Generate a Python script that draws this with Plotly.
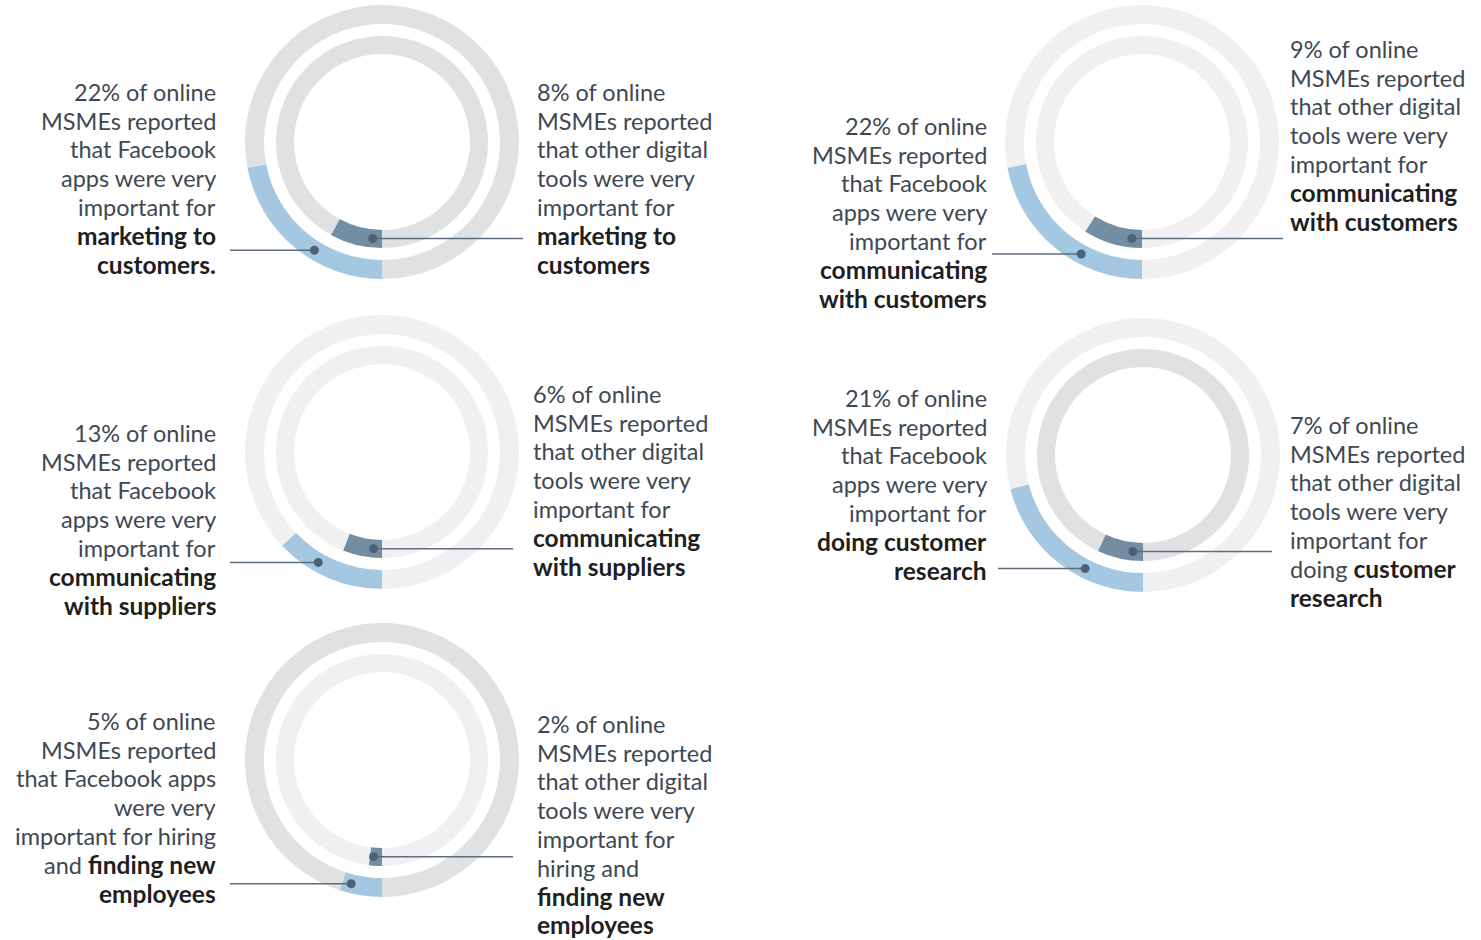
import math
import plotly.graph_objects as go

W, H = 1481, 940

# ---- data ----
topics = ["marketing to customers", "communicating with customers",
          "communicating with suppliers", "doing customer research",
          "hiring and finding new employees"]
facebook_pct = [22, 22, 13, 21, 5]
other_pct = [8, 9, 6, 7, 2]

left_labels = [
    ["22% of online", "MSMEs reported", "that Facebook", "apps were very", "important for", "{b}marketing to{e}", "{b}customers.{e}"],
    ["22% of online", "MSMEs reported", "that Facebook", "apps were very", "important for", "{b}communicating{e}", "{b}with customers{e}"],
    ["13% of online", "MSMEs reported", "that Facebook", "apps were very", "important for", "{b}communicating{e}", "{b}with suppliers{e}"],
    ["21% of online", "MSMEs reported", "that Facebook", "apps were very", "important for", "{b}doing customer{e}", "{b}research{e}"],
    ["5% of online", "MSMEs reported", "that Facebook apps", "were very", "important for hiring", "and {b}finding new{e}", "{b}employees{e}"],
]
right_labels = [
    ["8% of online", "MSMEs reported", "that other digital", "tools were very", "important for", "{b}marketing to{e}", "{b}customers{e}"],
    ["9% of online", "MSMEs reported", "that other digital", "tools were very", "important for", "{b}communicating{e}", "{b}with customers{e}"],
    ["6% of online", "MSMEs reported", "that other digital", "tools were very", "important for", "{b}communicating{e}", "{b}with suppliers{e}"],
    ["7% of online", "MSMEs reported", "that other digital", "tools were very", "important for", "doing {b}customer{e}", "{b}research{e}"],
    ["2% of online", "MSMEs reported", "that other digital", "tools were very", "important for", "hiring and", "{b}finding new{e}", "{b}employees{e}"],
]

# ---- layout / style config ----
centers = [(382, 142), (1142, 142), (382, 452), (1143, 455), (382, 760)]
R_OUT, R_OUT_IN = 137, 118
R_IN, R_IN_IN = 106, 88
BLUE = "#a4c7e2"
SLATE = "#738ea3"
G_DARK = "#e0e1e3"
G_LIGHT = "#f0f0f0"
outer_bg = [G_DARK, G_LIGHT, G_LIGHT, G_LIGHT, G_DARK]
inner_bg = [G_DARK, G_LIGHT, G_LIGHT, G_DARK, G_LIGHT]
dot_ang_out = [32, 28.5, 30, 27, 14]
dot_ang_in = [5.5, 6, 5, 6, 5]
left_line_end = [230, 992, 230, 998, 230]
right_line_end = [523, 1283, 513, 1272, 513]
left_text_x = [218, 989, 218, 989, 218]
right_text_x = [535, 1288, 531, 1288, 535]
left_first_y = [92, 126, 433, 398, 721]
right_first_y = [92, 49, 394, 425, 724]
PITCH = 28.7
TXT = "#3e4853"
BOLD = "#1f1f1f"
LINE = "#5c6d7e"
DOT = "#4e6176"
FONT = "Lato"
FS = 23.5
FS_BOLD = 24.5

def dom(cx, cy, r):
    return dict(x=[(cx - r) / W, (cx + r) / W], y=[1 - (cy + r) / H, 1 - (cy - r) / H])

fig = go.Figure()
for i in range(len(topics)):
    cx, cy = centers[i]
    for val, r, rin, col, bg in [(facebook_pct[i], R_OUT, R_OUT_IN, BLUE, outer_bg[i]),
                                 (other_pct[i], R_IN, R_IN_IN, SLATE, inner_bg[i])]:
        fig.add_trace(go.Pie(values=[val, 100 - val], sort=False, direction="clockwise",
                             rotation=180, hole=rin / r, domain=dom(cx, cy, r),
                             marker=dict(colors=[col, bg], line=dict(width=0)),
                             textinfo="none", hoverinfo="skip", showlegend=False))

# invisible pixel-scale axes for leader lines
fig.add_trace(go.Scatter(x=[0, W], y=[0, H], mode="markers", marker=dict(opacity=0),
                         hoverinfo="skip", showlegend=False))

shapes = []
ann = []
fmt = lambda s: s.replace("{b}", f"<span style='color:{BOLD};font-size:{FS_BOLD}px'><b>").replace("{e}", "</b></span>")
for i in range(len(topics)):
    cx, cy = centers[i]
    rm_o = (R_OUT + R_OUT_IN) / 2
    rm_i = (R_IN + R_IN_IN) / 2
    a = math.radians(dot_ang_out[i])
    ox, oy = cx - rm_o * math.sin(a), cy + rm_o * math.cos(a)
    a = math.radians(dot_ang_in[i])
    ix, iy = cx - rm_i * math.sin(a), cy + rm_i * math.cos(a)
    shapes.append(dict(type="line", xref="x", yref="y", x0=left_line_end[i], x1=ox, y0=oy, y1=oy,
                       line=dict(color=LINE, width=1.5), layer="above"))
    shapes.append(dict(type="line", xref="x", yref="y", x0=ix, x1=right_line_end[i], y0=iy, y1=iy,
                       line=dict(color=LINE, width=1.5), layer="above"))
    for (px, py) in [(ox, oy), (ix, iy)]:
        shapes.append(dict(type="circle", xref="x", yref="y", x0=px - 4.5, x1=px + 4.5,
                           y0=py - 4.5, y1=py + 4.5, fillcolor=DOT, line=dict(width=0), layer="above"))
    for k, line in enumerate(left_labels[i]):
        ann.append(dict(x=left_text_x[i], y=left_first_y[i] + k * PITCH, xref="x", yref="y",
                        text=fmt(line), showarrow=False, xanchor="right", yanchor="middle",
                        font=dict(family=FONT, size=FS, color=TXT)))
    for k, line in enumerate(right_labels[i]):
        ann.append(dict(x=right_text_x[i], y=right_first_y[i] + k * PITCH, xref="x", yref="y",
                        text=fmt(line), showarrow=False, xanchor="left", yanchor="middle",
                        font=dict(family=FONT, size=FS, color=TXT)))

fig.update_layout(width=W, height=H, margin=dict(l=0, r=0, t=0, b=0),
                  paper_bgcolor="white", plot_bgcolor="rgba(0,0,0,0)",
                  xaxis=dict(range=[0, W], visible=False, fixedrange=True),
                  yaxis=dict(range=[H, 0], visible=False, fixedrange=True),
                  shapes=shapes, annotations=ann, showlegend=False)
fig.write_html("out.html", config={"displayModeBar": False},
               post_script="document.body.style.margin='0';")
